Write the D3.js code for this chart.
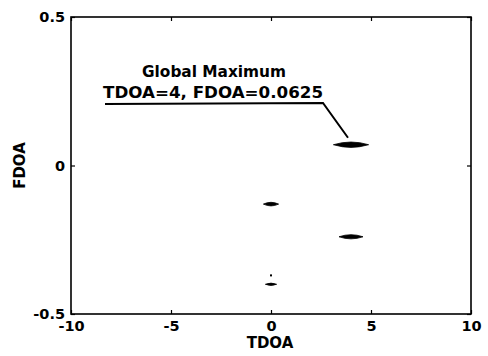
<!DOCTYPE html>
<html><head><meta charset="utf-8">
<script src="https://cdn.jsdelivr.net/npm/d3@7"></script>
<style>
html,body{margin:0;padding:0;background:#fff;}
svg{display:block;}
text{font-family:"DejaVu Sans",sans-serif;font-weight:bold;fill:#000;}
</style></head>
<body>
<script>
// ---- data ----
const xTicks = [-10, -5, 0, 5, 10];
const yTicks = [-0.5, 0, 0.5];
const xTickLabels = ["-10", "-5", "0", "5", "10"];
const yTickLabels = ["-0.5", "0", "0.5"];
const xDomain = [-10, 10];
const yDomain = [-0.5, 0.5];
const peakTdoa = [4, 0, 4, 0];
const peakFdoa = [0.07, -0.13, -0.24, -0.40];
const peakTdoaSpread = [0.88, 0.38, 0.6, 0.28];
const peakFdoaSpread = [0.009, 0.006, 0.007, 0.004];
const dotTdoa = [0];
const dotFdoa = [-0.37];
const annotationLines = ["Global Maximum", "TDOA=4, FDOA=0.0625"];
const xLabel = "TDOA", yLabel = "FDOA";

// ---- layout ----
const W = 488, H = 356;
const m = {left: 71, right: 17, top: 17, bottom: 42};
const x = d3.scaleLinear().domain(xDomain).range([m.left, W - m.right]);
const y = d3.scaleLinear().domain(yDomain).range([H - m.bottom, m.top]);

const svg = d3.select("body").append("svg").attr("width", W).attr("height", H);

// frame
svg.append("rect").attr("x", x(-10)).attr("y", y(0.5))
  .attr("width", x(10) - x(-10)).attr("height", y(-0.5) - y(0.5))
  .attr("fill", "none").attr("stroke", "#000").attr("stroke-width", 1.6);

// axes with inward ticks
const xb = svg.append("g").attr("transform", `translate(0,${y(-0.5)})`)
  .call(d3.axisBottom(x).tickValues(xTicks).tickSize(-4).tickPadding(7)
    .tickFormat((d, i) => xTickLabels[i]));
const xt = svg.append("g").attr("transform", `translate(0,${y(0.5)})`)
  .call(d3.axisTop(x).tickValues(xTicks).tickSize(-4).tickFormat(""));
const yl = svg.append("g").attr("transform", `translate(${x(-10)},0)`)
  .call(d3.axisLeft(y).tickValues(yTicks).tickSize(-4).tickPadding(6)
    .tickFormat((d, i) => yTickLabels[i]));
const yr = svg.append("g").attr("transform", `translate(${x(10)},0)`)
  .call(d3.axisRight(y).tickValues(yTicks).tickSize(-4).tickFormat(""));
[xb, xt, yl, yr].forEach(g => {
  g.select(".domain").remove();
  g.selectAll(".tick line").attr("stroke", "#000").attr("stroke-width", 1.2);
  g.selectAll("text").attr("font-size", 14.5).attr("font-family", "DejaVu Sans").attr("font-weight", "bold").attr("fill", "#000");
});

// axis labels
svg.append("text").attr("x", 270).attr("y", 348).attr("text-anchor", "middle")
  .attr("font-size", 15).text(xLabel);
svg.append("text").attr("transform", `translate(25,${(y(0.5) + y(-0.5)) / 2}) rotate(-90)`)
  .attr("text-anchor", "middle").attr("font-size", 15).text(yLabel);

// peaks (lens shapes)
const peaks = peakTdoa.map((t, i) => ({t, f: peakFdoa[i], st: peakTdoaSpread[i], sf: peakFdoaSpread[i]}));
svg.selectAll("path.peak").data(peaks).enter().append("path").attr("class", "peak")
  .attr("d", d => {
    const p = d3.path();
    const xl = x(d.t - d.st), xr = x(d.t + d.st), xc = x(d.t), yc = y(d.f);
    const hy = y(d.f) - y(d.f + d.sf);
    p.moveTo(xl, yc);
    p.quadraticCurveTo(xc, yc - 2 * hy, xr, yc);
    p.quadraticCurveTo(xc, yc + 2 * hy, xl, yc);
    p.closePath();
    return p.toString();
  })
  .attr("fill", "#000").attr("stroke", "#000").attr("stroke-width", 0.8);

svg.selectAll("rect.dot").data(dotTdoa.map((t, i) => ({t, f: dotFdoa[i]}))).enter()
  .append("rect").attr("class", "dot")
  .attr("x", d => x(d.t) - 1).attr("y", d => y(d.f) - 1).attr("width", 2).attr("height", 2).attr("fill", "#000");

// annotation
svg.append("text").attr("x", 214).attr("y", 77).attr("text-anchor", "middle")
  .attr("font-size", 15.5).attr("textLength", 144).attr("lengthAdjust", "spacingAndGlyphs").text(annotationLines[0]);
svg.append("text").attr("x", 213).attr("y", 98).attr("text-anchor", "middle")
  .attr("font-size", 15.5).attr("textLength", 220).attr("lengthAdjust", "spacingAndGlyphs").text(annotationLines[1]);
svg.append("path")
  .attr("d", d3.line()([[105, 104], [323, 103], [348, y(peakFdoa[0]) - 7]]))
  .attr("fill", "none").attr("stroke", "#000").attr("stroke-width", 2);
</script>
</body></html>
